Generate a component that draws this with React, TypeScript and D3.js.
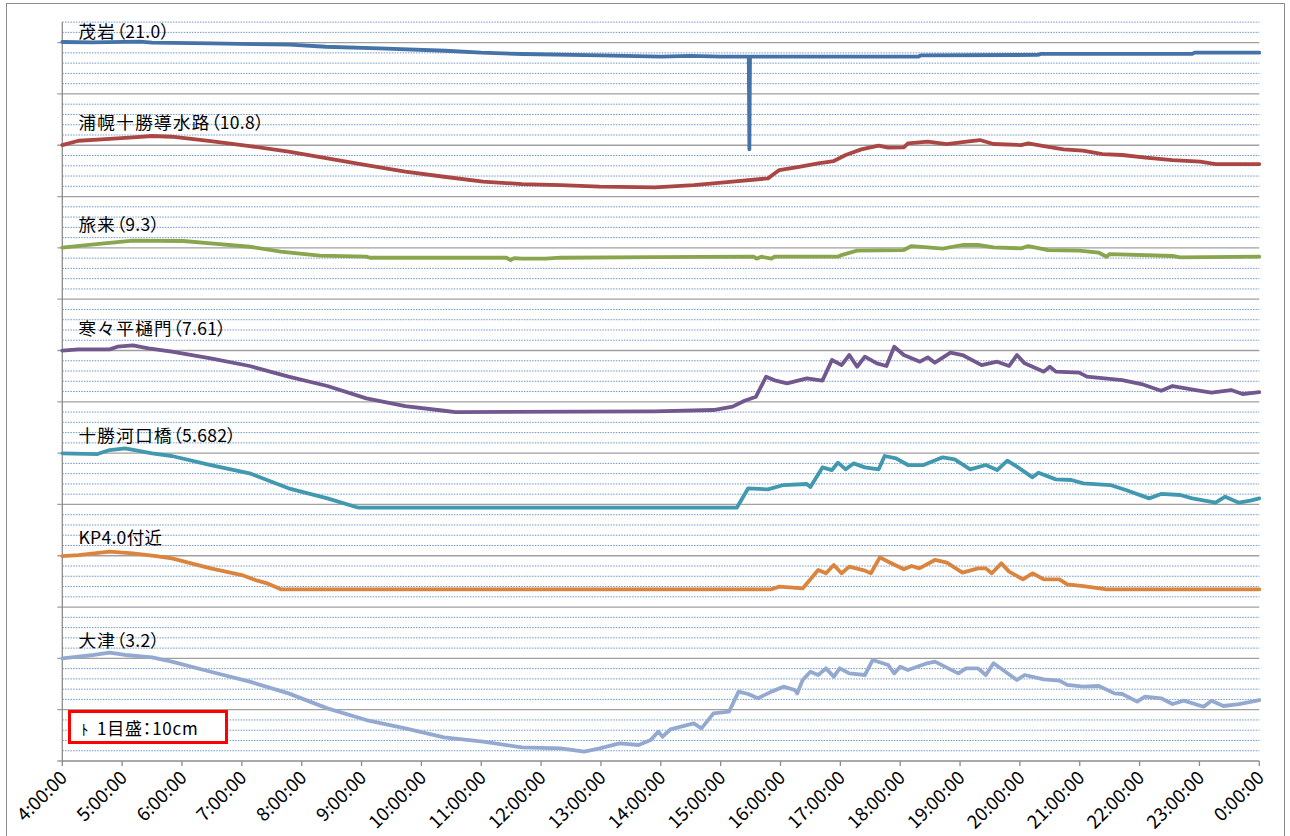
import React from 'react';
import * as d3 from 'd3';

// x values are hours elapsed since 4:00:00; y values are in grid steps (1 step = 10cm)
const hourLabels: string[] = [
  '4:00:00', '5:00:00', '6:00:00', '7:00:00', '8:00:00', '9:00:00', '10:00:00',
  '11:00:00', '12:00:00', '13:00:00', '14:00:00', '15:00:00', '16:00:00', '17:00:00',
  '18:00:00', '19:00:00', '20:00:00', '21:00:00', '22:00:00', '23:00:00', '0:00:00',
];

const stationNames: string[] = [
  '茂岩（21.0）',
  '浦幌十勝導水路（10.8）',
  '旅来（9.3）',
  '寒々平樋門（7.61）',
  '十勝河口橋（5.682）',
  'KP4.0付近',
  '大津（3.2）',
];

const stationColors: string[] = ['#4572A7', '#AA4643', '#89A54E', '#71588F', '#4198AF', '#DB843D', '#93A9CF'];

const moiwa: [number, number][] = [
  [0, 70.06], [0.5, 70.02], [1.3, 70.09], [1.5, 70.0], [2.5, 69.93], [3.2, 69.86], [3.8, 69.8],
  [4.4, 69.6], [5.3, 69.44], [6.4, 69.21], [7.0, 69.02], [7.7, 68.89], [9.0, 68.76], [10.0, 68.63],
  [10.5, 68.7], [11.0, 68.63], [11.47, 68.63], [11.48, 59.6], [11.49, 68.63], [14.3, 68.63],
  [14.35, 68.76], [16.3, 68.8], [16.35, 68.9], [18.88, 68.9], [18.92, 69.02], [20, 69.02],
];

const urahoro: [number, number][] = [
  [0, 60.02], [0.27, 60.44], [0.66, 60.57], [1.18, 60.77], [1.5, 60.9], [1.83, 60.83], [2.48, 60.41],
  [3.13, 59.92], [3.78, 59.37], [4.43, 58.72], [5.08, 58.07], [5.73, 57.42], [6.38, 56.93], [7.03, 56.45],
  [7.68, 56.22], [8.33, 56.12], [8.98, 55.96], [9.9, 55.89], [10.55, 56.12], [11.2, 56.45], [11.79, 56.77],
  [11.98, 57.58], [12.31, 57.9], [12.63, 58.23], [12.89, 58.46], [13.09, 59.05], [13.35, 59.6], [13.64, 59.96],
  [13.8, 59.76], [14.06, 59.79], [14.13, 60.19], [14.46, 60.35], [14.78, 60.12], [15.11, 60.35], [15.33, 60.51],
  [15.56, 60.12], [16.02, 60.02], [16.14, 60.19], [16.4, 59.92], [16.73, 59.6], [17.05, 59.47], [17.38, 59.14],
  [17.71, 59.05], [18.1, 58.79], [18.55, 58.56], [19.01, 58.4], [19.27, 58.17], [20, 58.17],
];

const tabikorai: [number, number][] = [
  [0, 50.02], [0.53, 50.34], [1.18, 50.7], [2.02, 50.67], [2.48, 50.44], [3.13, 50.11], [3.65, 49.63],
  [4.3, 49.24], [5.08, 49.14], [5.14, 49.04], [7.42, 49.04], [7.49, 48.82], [7.55, 49.0], [7.68, 48.95],
  [8.07, 48.95], [8.33, 49.04], [9.9, 49.1], [11.55, 49.14], [11.6, 48.95], [11.68, 49.14], [11.85, 48.95],
  [11.9, 49.14], [12.96, 49.14], [13.02, 49.3], [13.28, 49.73], [14.06, 49.79], [14.19, 50.18], [14.46, 50.05],
  [14.71, 49.92], [15.04, 50.28], [15.3, 50.28], [15.56, 50.05], [16.02, 49.95], [16.14, 50.18], [16.47, 49.79],
  [16.99, 49.73], [17.32, 49.53], [17.45, 49.14], [17.5, 49.4], [18.55, 49.21], [18.68, 49.08], [20, 49.14],
];

const kanbira: [number, number][] = [
  [0, 39.98], [0.27, 40.11], [0.79, 40.11], [0.92, 40.37], [1.18, 40.5], [1.44, 40.21], [1.83, 39.88],
  [2.48, 39.23], [3.13, 38.49], [3.78, 37.45], [4.43, 36.54], [5.08, 35.34], [5.73, 34.59], [6.38, 34.13],
  [6.57, 34.0], [9.9, 34.07], [10.88, 34.2], [11.2, 34.53], [11.4, 35.11], [11.59, 35.5], [11.76, 37.45],
  [11.92, 37.06], [12.11, 36.8], [12.44, 37.29], [12.7, 37.06], [12.86, 39.07], [13.02, 38.58], [13.15, 39.56],
  [13.28, 38.42], [13.41, 39.4], [13.61, 38.75], [13.77, 38.49], [13.9, 40.37], [14.06, 39.56], [14.33, 38.91],
  [14.46, 39.33], [14.58, 38.81], [14.84, 39.79], [15.04, 39.56], [15.36, 38.58], [15.62, 38.91], [15.82, 38.49],
  [15.95, 39.56], [16.08, 38.75], [16.4, 37.94], [16.5, 38.42], [16.6, 37.94], [16.99, 37.84], [17.12, 37.45],
  [17.71, 37.12], [18.03, 36.73], [18.36, 36.08], [18.55, 36.54], [18.94, 36.15], [19.2, 35.89], [19.53, 36.15],
  [19.72, 35.76], [20, 35.95],
];

const kakoBashi: [number, number][] = [
  [0, 29.98], [0.59, 29.91], [0.79, 30.3], [1.05, 30.47], [1.5, 29.98], [1.83, 29.72], [2.48, 28.84],
  [3.13, 28.03], [3.78, 26.57], [4.43, 25.59], [4.95, 24.68], [11.27, 24.68], [11.46, 26.57], [11.79, 26.47],
  [12.05, 26.89], [12.44, 26.99], [12.5, 26.7], [12.7, 28.61], [12.86, 28.35], [12.96, 29.07], [13.09, 28.42],
  [13.22, 29.0], [13.41, 28.61], [13.64, 28.42], [13.74, 29.72], [13.93, 29.49], [14.13, 28.84], [14.39, 28.84],
  [14.71, 29.59], [14.91, 29.39], [15.17, 28.42], [15.43, 28.84], [15.62, 28.35], [15.79, 29.26], [15.95, 28.68],
  [16.21, 27.64], [16.31, 28.09], [16.6, 27.44], [16.86, 27.38], [17.06, 27.06], [17.51, 26.89], [17.77, 26.41],
  [18.16, 25.59], [18.36, 26.02], [18.68, 25.92], [18.88, 25.59], [19.27, 25.17], [19.43, 25.76], [19.66, 25.17],
  [19.85, 25.37], [20, 25.59],
];

const kp40: [number, number][] = [
  [0, 19.97], [0.27, 20.07], [0.79, 20.4], [1.18, 20.23], [1.57, 19.97], [1.83, 19.75], [2.48, 18.77],
  [3.0, 18.12], [3.26, 17.57], [3.42, 17.31], [3.65, 16.73], [11.85, 16.73], [11.98, 16.99], [12.37, 16.82],
  [12.5, 17.7], [12.63, 18.61], [12.76, 18.29], [12.89, 19.1], [13.02, 18.29], [13.15, 18.94], [13.41, 18.55],
  [13.51, 18.29], [13.66, 19.84], [13.8, 19.42], [14.06, 18.68], [14.19, 19.0], [14.32, 18.77], [14.58, 19.59],
  [14.78, 19.33], [15.04, 18.35], [15.3, 18.77], [15.43, 18.77], [15.53, 18.29], [15.69, 19.26], [15.82, 18.45],
  [16.05, 17.7], [16.21, 18.29], [16.4, 17.7], [16.66, 17.7], [16.79, 17.21], [17.06, 17.05], [17.45, 16.73],
  [20, 16.73],
];

const otsu: [number, number][] = [
  [0, 10.0], [0.27, 10.17], [0.53, 10.33], [0.79, 10.56], [1.05, 10.33], [1.5, 10.1], [1.83, 9.68],
  [2.48, 8.7], [3.13, 7.73], [3.78, 6.59], [4.43, 5.13], [5.08, 3.99], [5.73, 3.18], [6.38, 2.31],
  [7.03, 1.88], [7.68, 1.33], [8.33, 1.23], [8.72, 0.91], [8.98, 1.23], [9.31, 1.72], [9.63, 1.56],
  [9.83, 2.05], [9.96, 2.86], [10.03, 2.37], [10.16, 3.09], [10.55, 3.67], [10.68, 3.18], [10.88, 4.64],
  [11.14, 4.81], [11.3, 6.76], [11.46, 6.53], [11.62, 6.11], [11.85, 6.76], [12.05, 7.24], [12.24, 6.92],
  [12.28, 6.59], [12.37, 7.89], [12.5, 8.7], [12.63, 8.38], [12.76, 9.03], [12.89, 8.22], [12.99, 9.03],
  [13.15, 8.54], [13.41, 8.38], [13.54, 9.84], [13.8, 9.35], [13.9, 8.54], [14.0, 9.19], [14.13, 8.87],
  [14.45, 9.52], [14.58, 9.68], [14.97, 8.54], [15.1, 9.03], [15.3, 9.03], [15.43, 8.38], [15.56, 9.52],
  [15.95, 7.89], [16.08, 8.38], [16.4, 7.96], [16.66, 7.83], [16.79, 7.41], [17.06, 7.24], [17.32, 7.31],
  [17.58, 6.59], [17.71, 6.53], [17.96, 5.78], [18.09, 6.27], [18.36, 6.11], [18.55, 5.55], [18.74, 5.88],
  [19.07, 5.29], [19.2, 5.88], [19.4, 5.36], [19.66, 5.55], [20, 5.94],
];

const allSeries = [moiwa, urahoro, tabikorai, kanbira, kakoBashi, kp40, otsu];

// label baselines (grid steps)
const labelLevels: number[] = [70.45, 61.63, 51.64, 41.49, 31.12, 21.14, 11.11];

const FONT = '"Noto Sans CJK JP", "Noto Sans", sans-serif';

export default function App() {
  const W = 1290;
  const H = 836;
  const left = 62.3, right = 1259.3, top = 22.1, bottom = 761;
  const x = d3.scaleLinear().domain([0, 20]).range([left, right]);
  const y = d3.scaleLinear().domain([0, 72]).range([bottom, top]);
  const line = d3.line<[number, number]>().x((d) => x(d[0])).y((d) => y(d[1]));

  const minorTicks = d3.range(1, 73).filter((k) => k % 5 !== 0);
  const majorTicks = d3.range(5, 71, 5);
  const hourTicks = d3.range(0, 21);

  return (
    <svg width={W} height={H} style={{ position: 'absolute', left: 0, top: 0, background: '#fff' }}>
      <rect x={0} y={0} width={W} height={H} fill="#fff" />
      <rect x={6.5} y={3.5} width={1278} height={845} fill="none" stroke="#8c8c8c" strokeWidth={1} />
      {/* minor gridlines */}
      {minorTicks.map((k) => (
        <line key={'m' + k} x1={left} x2={right} y1={y(k)} y2={y(k)} stroke="#4A7EBB" strokeOpacity={0.8}
          strokeWidth={1} strokeDasharray="1.5,1.2" />
      ))}
      {/* major gridlines */}
      {majorTicks.map((k) => (
        <line key={'M' + k} x1={left - 5} x2={right} y1={y(k)} y2={y(k)} stroke="#a0a0a0" strokeWidth={1.3} />
      ))}
      {/* axes */}
      <line x1={left} x2={left} y1={top} y2={bottom} stroke="#8c8c8c" strokeWidth={1.3} />
      <line x1={left - 5} x2={left} y1={bottom} y2={bottom} stroke="#8c8c8c" strokeWidth={1.3} />
      <line x1={left} x2={right} y1={bottom} y2={bottom} stroke="#8c8c8c" strokeWidth={1.3} />
      {hourTicks.map((h) => (
        <line key={'t' + h} x1={x(h)} x2={x(h)} y1={bottom} y2={bottom + 5} stroke="#8c8c8c" strokeWidth={1.3} />
      ))}
      {hourTicks.map((h, i) => (
        <text key={'l' + h} transform={`translate(${x(h) + 6},${bottom + 18}) rotate(-45)`} textAnchor="end"
          fontFamily={FONT} fontSize={18.5} fill="#000">
          {hourLabels[i]}
        </text>
      ))}
      {/* series */}
      {allSeries.map((s, i) => (
        <path key={'s' + i} d={line(s) || ''} fill="none" stroke={stationColors[i]} strokeWidth={3.8}
          strokeLinejoin="round" strokeLinecap="round" />
      ))}
      {/* station labels */}
      {stationNames.map((name, i) => {
        const p = name.indexOf('（');
        const main = p >= 0 ? name.slice(0, p) : name;
        const rest = p >= 0 ? name.slice(p) : '';
        return (
          <text key={'n' + i} x={x(0.27)} y={y(labelLevels[i])} fontFamily={FONT} fontSize={17.5} fill="#000">
            <tspan letterSpacing={main.startsWith('KP') ? 0.3 : 1.4}>{main}</tspan>
            {rest && (
              <tspan letterSpacing={0.3} style={{ fontFeatureSettings: '"palt"' }}>{rest}</tspan>
            )}
          </text>
        );
      })}
      {/* scale note */}
      <rect x={69.5} y={711.5} width={157} height={31} fill="#fff" stroke="#ff0000" strokeWidth={3} />
      <text x={81} y={735} fontFamily={FONT} fontSize={15} fill="#000">ﾄ</text>
      <text x={97} y={735} fontFamily={FONT} fontSize={17} fill="#000" letterSpacing={0.8}
        style={{ fontFeatureSettings: '"palt"' }}>1目盛：10cm</text>
    </svg>
  );
}
